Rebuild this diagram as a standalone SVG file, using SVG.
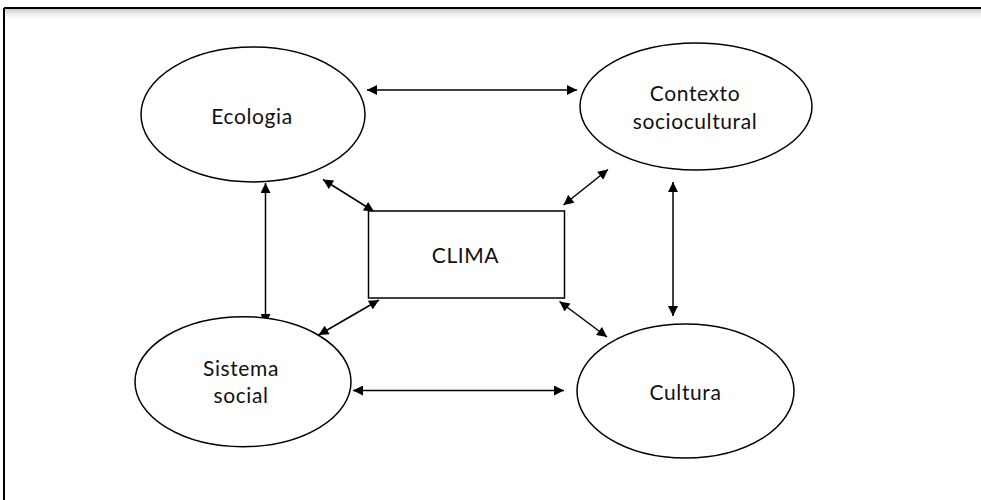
<svg xmlns="http://www.w3.org/2000/svg" width="981" height="500" viewBox="0 0 981 500">
<defs>
<marker id="ah" viewBox="0 0 10 10" refX="10" refY="5" markerWidth="12" markerHeight="10" markerUnits="userSpaceOnUse" orient="auto-start-reverse">
<path d="M0,0 L10,5 L0,10 z" fill="#000"/>
</marker>
<linearGradient id="sh" x1="0" y1="0" x2="0" y2="1">
<stop offset="0" stop-color="#c8c8c8"/>
<stop offset="1" stop-color="#ffffff" stop-opacity="0"/>
</linearGradient>
<style>
.n{fill:#fff;stroke:#000;stroke-width:1.5}
.t{font-family:Lato,"Liberation Sans",sans-serif;font-size:21px;letter-spacing:0.6px;fill:#111;text-anchor:middle}
.c{stroke:#000;stroke-width:1.5;fill:none;marker-start:url(#ah);marker-end:url(#ah)}
</style>
</defs>
<rect x="0" y="0" width="981" height="500" fill="#fff"/>
<rect x="5" y="9" width="976" height="12" fill="url(#sh)"/>
<g id="frame" stroke="#000" stroke-width="2" fill="none">
<line x1="4" y1="8" x2="981" y2="8"/>
<line x1="4" y1="8" x2="4" y2="500"/>
</g>
<g id="connectors">
<line class="c" x1="367" y1="90" x2="577" y2="90"/>
<line class="c" x1="265.5" y1="183" x2="265.5" y2="324"/>
<line class="c" x1="673" y1="182" x2="673" y2="316"/>
<line class="c" x1="353" y1="390.5" x2="564" y2="390.5"/>
<line class="c" x1="323" y1="179.5" x2="374" y2="211.5"/>
<line class="c" x1="608" y1="169.5" x2="563.5" y2="205"/>
<line class="c" x1="379" y1="300" x2="318.5" y2="335"/>
<line class="c" x1="559.5" y1="301.5" x2="607" y2="337"/>
</g>
<g id="ecologia">
<ellipse class="n" cx="253" cy="114.5" rx="112" ry="67.5"/>
<text class="t" x="252" y="124">Ecologia</text>
</g>
<g id="contexto">
<ellipse class="n" cx="696" cy="106.5" rx="116" ry="63.5"/>
<text class="t" x="695" y="101">Contexto</text>
<text class="t" x="695" y="129">sociocultural</text>
</g>
<g id="sistema">
<ellipse class="n" cx="243" cy="381.7" rx="108" ry="65"/>
<text class="t" x="241" y="376">Sistema</text>
<text class="t" x="241" y="403">social</text>
</g>
<g id="cultura">
<ellipse class="n" cx="685.5" cy="391" rx="108.5" ry="67"/>
<text class="t" x="685.5" y="400">Cultura</text>
</g>
<g id="clima">
<rect class="n" x="368.5" y="211" width="196" height="87"/>
<text class="t" x="465.5" y="263">CLIMA</text>
</g>
</svg>
